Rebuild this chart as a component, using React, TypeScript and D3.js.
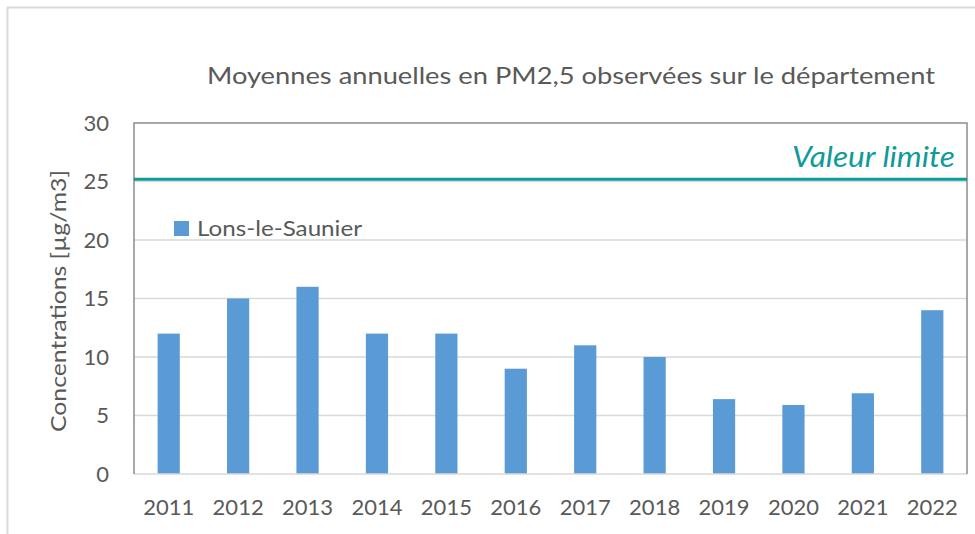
import { useRef, useEffect } from 'react';
import * as d3 from 'd3';

const years = ['2011', '2012', '2013', '2014', '2015', '2016', '2017', '2018', '2019', '2020', '2021', '2022'];
const lonsValues = [12, 15, 16, 12, 12, 9, 11, 10, 6.4, 5.9, 6.9, 14];
const yTicks = [0, 5, 10, 15, 20, 25, 30];
const limitValue = 25.2;
const seriesName = 'Lons-le-Saunier';
const title = 'Moyennes annuelles en PM2,5 observées sur le département';
const yTitle = 'Concentrations [µg/m3]';
const limitLabel = 'Valeur limite';

const FONT = 'Lato, "Open Sans", sans-serif';

export default function App() {
  const svgRef = useRef<SVGSVGElement>(null);

  useEffect(() => {
    const width = 975;
    const height = 534;
    const margin = { top: 123, right: 8, bottom: 60, left: 134 };
    const innerWidth = 967 - margin.left;
    const innerHeight = 474 - margin.top;

    const root = d3.select(svgRef.current);
    root.selectAll('*').remove();
    root.attr('width', width).attr('height', height);

    root.append('rect').attr('width', width).attr('height', height).attr('fill', '#fff');
    // outer frame
    root.append('rect')
      .attr('x', 7.5).attr('y', 7.5)
      .attr('width', width).attr('height', height)
      .attr('fill', 'none').attr('stroke', '#d9d9d9').attr('stroke-width', 2);

    root.append('text')
      .attr('x', 207).attr('y', 84)
      .attr('textLength', 728).attr('lengthAdjust', 'spacingAndGlyphs')
      .attr('font-family', FONT).attr('font-size', 24)
      .attr('fill', '#595959')
      .text(title);

    const svg = root.append('g').attr('transform', `translate(${margin.left},${margin.top})`);

    const x = d3.scaleBand()
      .domain(years)
      .range([0, innerWidth])
      .paddingInner(0.68)
      .paddingOuter(0.34);

    const y = d3.scaleLinear().domain([0, 30]).range([innerHeight, 0]);

    // gridlines
    svg.append('g')
      .selectAll('line')
      .data(yTicks.filter(t => t > 0 && t < 30))
      .join('line')
      .attr('x1', 0).attr('x2', innerWidth)
      .attr('y1', d => y(d)).attr('y2', d => y(d))
      .attr('stroke', '#d9d9d9').attr('stroke-width', 1.5);

    // bars
    svg.append('g')
      .selectAll('rect')
      .data(lonsValues)
      .join('rect')
      .attr('x', (_, i) => x(years[i]) as number)
      .attr('y', d => y(d))
      .attr('width', x.bandwidth())
      .attr('height', d => innerHeight - y(d))
      .attr('fill', '#5b9bd5');

    // zero line
    svg.append('line')
      .attr('x1', 0).attr('x2', innerWidth)
      .attr('y1', innerHeight).attr('y2', innerHeight)
      .attr('stroke', '#d9d9d9').attr('stroke-width', 1.5);

    // plot border (left, top, right)
    svg.append('path')
      .attr('d', `M0,${innerHeight}V0H${innerWidth}V${innerHeight}`)
      .attr('fill', 'none').attr('stroke', '#8c8c8c').attr('stroke-width', 1.5);

    // limit line
    svg.append('line')
      .attr('x1', 0).attr('x2', innerWidth)
      .attr('y1', y(limitValue)).attr('y2', y(limitValue))
      .attr('stroke', '#0f9b98').attr('stroke-width', 3);

    svg.append('text')
      .attr('x', innerWidth - 12).attr('y', y(limitValue) - 12)
      .attr('text-anchor', 'end')
      .attr('textLength', 163).attr('lengthAdjust', 'spacingAndGlyphs')
      .attr('font-family', FONT).attr('font-size', 28).attr('font-style', 'italic')
      .attr('fill', '#0f9b98')
      .text(limitLabel);

    // y axis ticks
    const yAxis = svg.append('g').call(d3.axisLeft(y).tickValues(yTicks).tickSize(0).tickPadding(25));
    yAxis.select('.domain').remove();
    yAxis.selectAll('text')
      .attr('font-family', FONT).attr('font-size', 22).attr('fill', '#595959');

    // x axis ticks
    const xAxis = svg.append('g')
      .attr('transform', `translate(0,${innerHeight})`)
      .call(d3.axisBottom(x).tickSize(0).tickPadding(25));
    xAxis.select('.domain').remove();
    xAxis.selectAll('text')
      .attr('font-family', FONT).attr('font-size', 22).attr('fill', '#595959');

    // y title
    root.append('text')
      .attr('transform', `translate(66,301) rotate(-90)`)
      .attr('text-anchor', 'middle')
      .attr('textLength', 262).attr('lengthAdjust', 'spacingAndGlyphs')
      .attr('font-family', FONT).attr('font-size', 22)
      .attr('fill', '#595959')
      .text(yTitle);

    // legend
    const legend = svg.append('g').attr('transform', `translate(40,${y(20) - 19})`);
    legend.append('rect').attr('width', 15).attr('height', 15).attr('fill', '#5b9bd5');
    legend.append('text')
      .attr('x', 23).attr('y', 15)
      .attr('textLength', 165).attr('lengthAdjust', 'spacingAndGlyphs')
      .attr('font-family', FONT).attr('font-size', 22)
      .attr('fill', '#595959')
      .text(seriesName);
  }, []);

  return (
    <div style={{ position: 'absolute', left: 0, top: 0 }}>
      <svg ref={svgRef}></svg>
    </div>
  );
}
